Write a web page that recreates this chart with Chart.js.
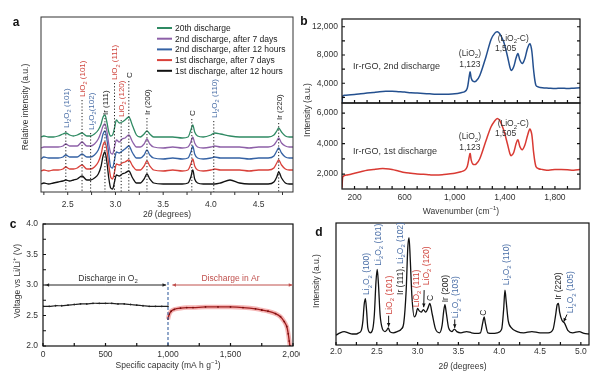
<!DOCTYPE html>
<html>
<head>
<meta charset="utf-8">
<script src="https://cdn.jsdelivr.net/npm/chart.js@4.4.0/dist/chart.umd.min.js"></script>
<style>
  body { margin: 0; background: #fff; width: 600px; height: 374px; overflow: hidden; position: relative; }
  canvas { position: absolute; }
</style>
</head>
<body>
<canvas id="chartA" width="300" height="222" style="left:0;top:0"></canvas>
<canvas id="chartB2" width="300" height="222" style="left:300px;top:0"></canvas>
<canvas id="chartB1" width="300" height="104" style="left:300px;top:0"></canvas>
<canvas id="chartC" width="300" height="159" style="left:0;top:215px"></canvas>
<canvas id="chartD" width="300" height="159" style="left:300px;top:215px"></canvas>
<script>
// ---- panel a: XRD patterns, 5 discharges ----
const A_TWO_THETA = [2.22, 2.25, 2.30, 2.35, 2.40, 2.45, 2.48, 2.52, 2.56, 2.60, 2.65, 2.70, 2.74, 2.78, 2.82,
  2.85, 2.87, 2.89, 2.91, 2.93, 2.95, 2.97, 2.99, 3.01, 3.04, 3.07, 3.10, 3.14, 3.18, 3.22,
  3.26, 3.30, 3.33, 3.36, 3.40, 3.50, 3.60, 3.70, 3.76, 3.79, 3.81, 3.83, 3.86, 3.92, 4.00,
  4.04, 4.10, 4.20, 4.30, 4.40, 4.50, 4.60, 4.66, 4.69, 4.71, 4.74, 4.78, 4.82, 4.86];
const A_20TH = [55, 56, 55, 55, 56, 58, 59, 57, 56, 57, 59, 56, 56, 58, 62,
  68, 75, 77, 70, 60, 56, 57, 64, 72, 69, 70, 72, 75, 66, 57,
  55, 58, 61, 58, 55, 55, 55, 54, 55, 62, 67, 60, 56, 55, 57,
  59, 58, 56, 55, 55, 55, 55, 57, 61, 64, 60, 56, 55, 55];
const A_2ND_7D = [44, 45, 45, 45, 45, 46, 48, 46, 46, 46, 50, 46, 46, 48, 53,
  60, 66, 68, 61, 48, 39, 38, 45, 52, 50, 53, 54, 57, 50, 45,
  45, 48, 53, 48, 45, 44, 45, 44, 45, 50, 55, 49, 45, 44, 45,
  46, 45, 45, 45, 44, 45, 45, 47, 51, 54, 49, 46, 45, 45];
const A_2ND_12H = [33, 35, 34, 34, 34, 35, 37, 35, 35, 35, 38, 35, 35, 37, 42,
  50, 58, 61, 53, 38, 25, 24, 32, 40, 39, 41, 43, 46, 39, 34,
  34, 37, 42, 37, 34, 33, 34, 33, 34, 40, 46, 38, 34, 33, 34,
  35, 34, 34, 34, 33, 34, 34, 36, 41, 44, 39, 35, 34, 34];
const A_1ST_7D = [21, 22, 21, 22, 22, 23, 25, 23, 23, 24, 27, 23, 23, 25, 30,
  38, 47, 50, 42, 27, 15, 13, 20, 28, 27, 29, 30, 32, 26, 22,
  22, 26, 31, 26, 22, 21, 22, 21, 22, 28, 33, 26, 22, 21, 22,
  23, 22, 22, 22, 21, 22, 22, 24, 29, 32, 27, 23, 22, 22];
const A_1ST_12H = [8, 9, 8, 9, 10, 11, 12, 11, 12, 13, 16, 12, 12, 14, 18,
  26, 36, 40, 30, 14, 4, 3, 10, 17, 16, 18, 19, 21, 14, 9,
  9, 13, 18, 13, 9, 8, 8, 8, 9, 15, 22, 13, 9, 8, 8,
  8, 9, 12, 9, 8, 8, 8, 10, 15, 20, 14, 9, 8, 8];
const A_LEGEND = ['20th discharge', '2nd discharge, after 7 days', '2nd discharge, after 12 hours',
  '1st discharge, after 7 days', '1st discharge, after 12 hours'];
const A_PEAK_NAMES = ['Li_2O_2 (101)', 'LiO_2 (101)', 'Li_2O_2(102)', 'Ir (111)', 'LiO_2 (111)', 'LiO_2 (120)',
  'C', 'Ir (200)', 'C', 'Li_2O_2 (110)', 'Ir (220)'];
const A_PEAK_PHASE = ['Li2O2', 'LiO2', 'Li2O2', 'Ir', 'LiO2', 'LiO2', 'C', 'Ir', 'C', 'Li2O2', 'Ir'];
const A_PEAK_POS = [2.48, 2.65, 2.74, 2.89, 2.99, 3.06, 3.14, 3.33, 3.80, 4.03, 4.71];
const A_LABEL_BASE = [64, 95, 62, 77, 112, 75, 114, 77, 76, 74, 72];
const A_X_TICKS = [2.5, 3.0, 3.5, 4.0, 4.5];
const A_X_MARKS = [2.25, 2.5, 2.75, 3.0, 3.25, 3.5, 3.75, 4.0, 4.25, 4.5, 4.75];

// ---- panel b: Raman spectra ----
const B_WAVENUMBER = [100, 105, 110, 120, 150, 200, 250, 300, 350, 400, 450, 500, 550, 600, 650,
  700, 750, 800, 850, 900, 950, 1000, 1050, 1080, 1100, 1115, 1123, 1132, 1145, 1170,
  1200, 1250, 1290, 1320, 1340, 1360, 1390, 1420, 1440, 1450, 1470, 1490, 1505, 1520, 1540,
  1560, 1580, 1600, 1615, 1630, 1648, 1670, 1700, 1750, 1800, 1850, 1900, 1950, 2000];
const B_SECOND = [1300, 2100, 2250, 2300, 2350, 2400, 2500, 2600, 2700, 2800, 2850, 2850, 2800, 2750, 2650,
  2600, 2550, 2500, 2450, 2450, 2450, 2500, 2650, 2800, 3300, 4900, 5600, 4700, 4300, 4300,
  5100, 7800, 10200, 11100, 11300, 11000, 9900, 7900, 6300, 5800, 6300, 7600, 8200, 7300, 6800,
  7500, 8900, 9600, 8600, 5800, 3700, 3450, 3350, 3300, 3250, 3300, 3250, 3300, 3350];
const B_FIRST = [1100, 1800, 1850, 1900, 1950, 2050, 2150, 2250, 2300, 2350, 2350, 2300, 2200, 2100, 2050,
  2000, 1980, 1950, 1930, 1950, 2000, 2050, 2150, 2250, 2500, 3100, 3350, 2900, 2650, 2650,
  3000, 4200, 5100, 5500, 5650, 5500, 4900, 4000, 3350, 3200, 3400, 4000, 4250, 3800, 3600,
  3900, 4500, 4950, 4600, 3400, 2500, 2350, 2300, 2250, 2300, 2300, 2280, 2250, 2300];
const B_NAMES = ['Ir-rGO, 2nd discharge', 'Ir-rGO, 1st discharge'];
const B_NAME_AT = [[188, 6440], [188, 3508]];
const B_NOTE_TEXT = ['(LiO_2)', '1,123', '(LiO_2-C)', '1,505'];
const B_NOTE_X = [1121, 1121, 1467, 1406];
const B_TOP_NOTE_Y = [8280, 6730, 10400, 8990];
const B_BOT_NOTE_Y = [4490, 3770, 5340, 4690];
const B_X_TICKS = [200, 600, 1000, 1400, 1800];
const B_X_MARKS = [200, 300, 400, 500, 600, 700, 800, 900, 1000, 1100, 1200, 1300, 1400, 1500, 1600, 1700, 1800, 1900];
const B_TOP_Y_TICKS = [4000, 8000, 12000];
const B_TOP_Y_MARKS = [2000, 4000, 6000, 8000, 10000, 12000];
const B_BOT_Y_TICKS = [2000, 4000, 6000];
const B_BOT_Y_MARKS = [2000, 3000, 4000, 5000, 6000];

// ---- panel c: discharge profile ----
const C_O2_CAP = [0, 50, 100, 150, 200, 250, 300, 350, 400, 450, 500, 550, 600, 650, 700, 750, 800, 850, 900, 950, 1000];
const C_O2_V = [2.65, 2.65, 2.66, 2.66, 2.67, 2.68, 2.69, 2.69, 2.70, 2.70, 2.70, 2.70, 2.69, 2.69, 2.68, 2.67, 2.66, 2.65, 2.65, 2.65, 2.65];
const C_AR_CAP = [1000, 1010, 1025, 1050, 1100, 1150, 1200, 1300, 1400, 1500, 1600, 1700, 1750, 1800, 1860, 1900, 1930, 1950, 1962, 1970, 1975];
const C_AR_V = [2.44, 2.52, 2.57, 2.60, 2.62, 2.63, 2.63, 2.64, 2.64, 2.64, 2.63, 2.61, 2.59, 2.57, 2.53, 2.48, 2.40, 2.32, 2.20, 2.08, 2.00];
const C_SWITCH = 1000;
const C_ARROW_V = 3.0;
const C_X_TICKS = [0, 500, 1000, 1500, 2000];
const C_X_MARKS = [0, 250, 500, 750, 1000, 1250, 1500, 1750, 2000];
const C_Y_TICKS = [2.0, 2.5, 3.0, 3.5, 4.0];
const C_Y_MARKS = [2.0, 2.25, 2.5, 2.75, 3.0, 3.25, 3.5, 3.75, 4.0];

// ---- panel d: XRD of Ir-rGO cathode ----
const D_TWO_THETA = [2.00, 2.05, 2.10, 2.15, 2.20, 2.25, 2.28, 2.31, 2.33, 2.345, 2.36, 2.375, 2.39, 2.42, 2.45,
  2.47, 2.49, 2.505, 2.52, 2.54, 2.57, 2.60, 2.62, 2.64, 2.66, 2.70, 2.75, 2.80, 2.83, 2.86,
  2.88, 2.895, 2.91, 2.93, 2.96, 2.98, 3.00, 3.02, 3.045, 3.07, 3.10, 3.125, 3.15, 3.18, 3.22,
  3.27, 3.30, 3.32, 3.335, 3.35, 3.38, 3.42, 3.45, 3.48, 3.53, 3.60, 3.66, 3.72, 3.77, 3.80,
  3.815, 3.83, 3.86, 3.92, 3.98, 4.03, 4.055, 4.07, 4.085, 4.11, 4.15, 4.22, 4.30, 4.40, 4.50,
  4.60, 4.66, 4.69, 4.71, 4.725, 4.74, 4.77, 4.80, 4.84, 4.90, 4.98, 5.04, 5.10];
const D_INTENSITY = [8, 10, 11, 10, 9, 9, 10, 12, 20, 33, 38, 28, 14, 10, 13,
  25, 52, 62, 50, 25, 13, 11, 12, 14, 11, 10, 11, 13, 18, 45,
  80, 88, 70, 40, 23, 25, 30, 28, 27, 29, 27, 30, 34, 25, 13,
  10, 16, 28, 33, 27, 14, 11, 13, 11, 10, 11, 10, 9.5, 10, 19,
  23, 18, 10, 9.5, 10, 13, 30, 45, 36, 20, 14, 11, 10, 11, 10,
  10, 13, 24, 33, 34, 27, 20, 18, 12, 10, 11, 9.5, 9];
const D_PEAK_NAMES = ['Li_2O_2 (100)', 'Li_2O_2 (101)', 'LiO_2 (101)', ['Ir (111), ', 'Li_2O_2 (102)'], 'LiO_2 (111)',
  'LiO_2 (120)', 'C', 'Ir (200)', 'Li_2O_2 (103)', 'C', 'Li_2O_2 (110)', 'Ir (220)', 'Li_2O_2 (105)'];
const D_PEAK_PHASE = ['Li2O2', 'Li2O2', 'LiO2', ['Ir', 'Li2O2'], 'LiO2', 'LiO2', 'C', 'Ir', 'Li2O2', 'C', 'Li2O2', 'Ir', 'Li2O2'];
const D_LABEL_X = [2.37, 2.51, 2.65, 2.78, 2.98, 3.10, 3.15, 3.34, 3.46, 3.80, 4.08, 4.72, 4.87];
const D_LABEL_BASE = [41, 65, 25, 41, 31, 49, 36, 35, 22, 24, 49, 37, 26];
const D_ARROWS = [[2.645, 24, 2.645, 15], [3.08, 45, 3.075, 31], [3.455, 21, 3.455, 14], [4.83, 25, 4.79, 19]];
const D_X_TICKS = [2.0, 2.5, 3.0, 3.5, 4.0, 4.5, 5.0];
const D_X_MARKS = [2.0, 2.25, 2.5, 2.75, 3.0, 3.25, 3.5, 3.75, 4.0, 4.25, 4.5, 4.75, 5.0];

// ---- styling ----
const FONT = "'Liberation Sans', Arial, Helvetica, sans-serif";
Chart.defaults.font.family = FONT;
Chart.defaults.font.size = 8.5;
Chart.defaults.color = '#333';
const PHASE_COLOR = { Li2O2: '#4c70a8', LiO2: '#d0463f', Ir: '#222', C: '#222' };
const A_COLORS = ['#2f8a63', '#8d60a8', '#3562a4', '#d9413a', '#111'];

function pts(xs, ys) { return xs.map((x, i) => ({ x: x, y: ys[i] })); }

// "_2" subscript, "^+" superscript, "~θ~" italic
function richParts(s) {
  const out = [];
  let buf = '', i = 0;
  const flush = () => { if (buf) out.push({ t: buf, m: 'n' }); buf = ''; };
  while (i < s.length) {
    const ch = s[i];
    if ((ch === '_' || ch === '^') && i + 1 < s.length) {
      flush();
      let t;
      if (s[i + 1] === '{') { const j = s.indexOf('}', i); t = s.slice(i + 2, j); i = j + 1; }
      else { t = s[i + 1]; i += 2; }
      out.push({ t: t, m: ch === '_' ? 'sub' : 'sup' });
    } else if (ch === '~') {
      flush();
      const j = s.indexOf('~', i + 1);
      out.push({ t: s.slice(i + 1, j), m: 'it' });
      i = j + 1;
    } else { buf += ch; i++; }
  }
  flush();
  return out;
}

function drawRich(ctx, pieces, x, y, o) {
  const size = o.size || 8.5;
  const weight = o.bold ? 'bold ' : '';
  const list = typeof pieces === 'string' ? [[pieces, o.color || '#333']] : pieces;
  const segs = [];
  list.forEach(([s, c]) => richParts(s).forEach(p => segs.push(Object.assign(p, { c: c }))));
  const fontFor = m => (m === 'it' ? 'italic ' : '') + weight + (m === 'sub' || m === 'sup' ? size * 0.7 : size) + 'px ' + FONT;
  ctx.save();
  ctx.translate(x, y);
  if (o.rotate) ctx.rotate(-Math.PI / 2);
  let w = 0;
  segs.forEach(p => { ctx.font = fontFor(p.m); p.w = ctx.measureText(p.t).width; w += p.w; });
  let cx = o.align === 'left' ? 0 : o.align === 'right' ? -w : -w / 2;
  ctx.textAlign = 'left';
  ctx.textBaseline = 'alphabetic';
  const base = size * 0.36;
  segs.forEach(p => {
    ctx.font = fontFor(p.m);
    ctx.fillStyle = p.c;
    const dy = p.m === 'sub' ? size * 0.28 : p.m === 'sup' ? -size * 0.42 : 0;
    ctx.fillText(p.t, cx, base + dy);
    cx += p.w;
  });
  ctx.restore();
}

function arrow(ctx, x1, y1, x2, y2, head, color) {
  const ang = Math.atan2(y2 - y1, x2 - x1);
  ctx.save();
  ctx.strokeStyle = color; ctx.fillStyle = color; ctx.lineWidth = 1;
  ctx.beginPath(); ctx.moveTo(x1, y1); ctx.lineTo(x2, y2); ctx.stroke();
  ctx.beginPath();
  ctx.moveTo(x2, y2);
  ctx.lineTo(x2 - head * Math.cos(ang - 0.45), y2 - head * Math.sin(ang - 0.45));
  ctx.lineTo(x2 - head * Math.cos(ang + 0.45), y2 - head * Math.sin(ang + 0.45));
  ctx.closePath(); ctx.fill();
  ctx.restore();
}

function fixAxis(size) {
  return scale => {
    if (scale.isHorizontal()) scale.height = size; else scale.width = size;
    scale.paddingLeft = scale.paddingRight = scale.paddingTop = scale.paddingBottom = 0;
  };
}

function axis(min, max, labels, fmt, pad, size) {
  return {
    type: 'linear', min: min, max: max,
    grid: { display: false, drawTicks: false }, border: { display: false },
    afterBuildTicks: s => { s.ticks = labels.map(v => ({ value: v })); },
    afterFit: fixAxis(size),
    ticks: { autoSkip: false, maxRotation: 0, padding: pad, color: '#333', callback: fmt }
  };
}

function hiddenAxis(min, max, size) {
  return {
    type: 'linear', min: min, max: max, ticks: { display: false },
    grid: { display: false, drawTicks: false }, border: { display: false }, afterFit: fixAxis(size)
  };
}

// frame box + tick marks
const framePlugin = {
  id: 'frame',
  afterDatasetsDraw(chart, args, o) {
    const { ctx, chartArea: a, scales } = chart;
    ctx.save();
    ctx.strokeStyle = o.color || '#111';
    ctx.lineWidth = o.lineWidth || 1;
    ctx.strokeRect(a.left, a.top, a.right - a.left, a.bottom - a.top);
    (o.marks || []).forEach(m => {
      const s = scales[m.axis];
      const d = m.out ? -m.len : m.len;
      ctx.beginPath();
      m.values.forEach(v => {
        const p = s.getPixelForValue(v);
        m.sides.forEach(side => {
          if (side === 'bottom') { ctx.moveTo(p, a.bottom); ctx.lineTo(p, a.bottom - d); }
          if (side === 'top') { ctx.moveTo(p, a.top); ctx.lineTo(p, a.top + d); }
          if (side === 'left') { ctx.moveTo(a.left, p); ctx.lineTo(a.left + d, p); }
          if (side === 'right') { ctx.moveTo(a.right, p); ctx.lineTo(a.right - d, p); }
        });
      });
      ctx.stroke();
    });
    ctx.restore();
  }
};

function baseOptions(padding, scales, frame) {
  return {
    responsive: false, animation: false, events: [],
    layout: { padding: padding },
    plugins: { legend: { display: false }, tooltip: { enabled: false }, frame: frame },
    scales: scales
  };
}

const fmt1 = v => v.toFixed(1);
const fmtK = v => v.toLocaleString('en-US');

// ---------- panel a ----------
const A_SERIES = [A_20TH, A_2ND_7D, A_2ND_12H, A_1ST_7D, A_1ST_12H];
new Chart(document.getElementById('chartA'), {
  type: 'line',
  data: {
    datasets: A_SERIES.map((ys, i) => ({
      label: A_LEGEND[i], data: pts(A_TWO_THETA, ys), borderColor: A_COLORS[i],
      borderWidth: 1.3, pointRadius: 0, cubicInterpolationMode: 'monotone'
    }))
  },
  options: baseOptions({ top: 17, right: 7, left: 0, bottom: 0 }, {
    x: axis(2.22, 4.86, A_X_TICKS, fmt1, 8, 30),
    y: hiddenAxis(0, 175, 41)
  }, { color: '#333', lineWidth: 1, marks: [{ axis: 'x', values: A_X_MARKS, len: 3, out: true, sides: ['bottom'] }] }),
  plugins: [framePlugin, {
    id: 'notesA',
    afterDatasetsDraw(chart) {
      const { ctx, chartArea: a, scales: { x, y } } = chart;
      A_PEAK_NAMES.forEach((name, i) => {
        const px = x.getPixelForValue(A_PEAK_POS[i]);
        const py = y.getPixelForValue(A_LABEL_BASE[i]);
        ctx.save();
        ctx.setLineDash([1.2, 2]); ctx.strokeStyle = '#222'; ctx.lineWidth = 1;
        ctx.beginPath(); ctx.moveTo(px, py + 3); ctx.lineTo(px, a.bottom); ctx.stroke();
        ctx.restore();
        drawRich(ctx, name, px, py, { size: 8, color: PHASE_COLOR[A_PEAK_PHASE[i]], rotate: true, align: 'left' });
      });
      chart.data.datasets.forEach((ds, i) => {
        const ly = a.top + 11 + i * 10.7;
        ctx.save();
        ctx.strokeStyle = ds.borderColor; ctx.lineWidth = 2;
        ctx.beginPath(); ctx.moveTo(a.left + 116, ly); ctx.lineTo(a.left + 131, ly); ctx.stroke();
        ctx.restore();
        drawRich(ctx, ds.label, a.left + 134, ly, { size: 8.5, color: '#222', align: 'left' });
      });
      drawRich(ctx, '2~θ~ (degrees)', (a.left + a.right) / 2, 214, { size: 8.5 });
      drawRich(ctx, 'Relative intensity (a.u.)', 25, 107, { size: 8.5, rotate: true });
      drawRich(ctx, 'a', 16, 22, { size: 12, bold: true, color: '#111' });
    }
  }]
});

// ---------- panel b ----------
function ramanNotes(nameIdx, noteY) {
  return function (chart) {
    const { ctx, scales: { x, y } } = chart;
    drawRich(ctx, B_NAMES[nameIdx], x.getPixelForValue(B_NAME_AT[nameIdx][0]), y.getPixelForValue(B_NAME_AT[nameIdx][1]), { size: 9, align: 'left' });
    B_NOTE_TEXT.forEach((t, i) => {
      drawRich(ctx, t, x.getPixelForValue(B_NOTE_X[i]), y.getPixelForValue(noteY[i]), { size: 8.5 });
    });
  };
}

new Chart(document.getElementById('chartB1'), {
  type: 'line',
  data: { datasets: [{ data: pts(B_WAVENUMBER, B_SECOND), borderColor: '#24508f', borderWidth: 1.5, pointRadius: 0, tension: 0.3 }] },
  options: baseOptions({ top: 19, right: 20, left: 0, bottom: 1 }, {
    x: Object.assign(hiddenAxis(100, 2000, 0), { display: false }),
    y: axis(1200, 13100, B_TOP_Y_TICKS, fmtK, 4, 42)
  }, { color: '#111', lineWidth: 1.2, marks: [
    { axis: 'x', values: B_X_MARKS, len: 3, sides: ['bottom'] },
    { axis: 'y', values: B_TOP_Y_MARKS, len: 3, sides: ['left', 'right'] }
  ] }),
  plugins: [framePlugin, { id: 'notesB1', afterDatasetsDraw: ramanNotes(0, B_TOP_NOTE_Y) }]
});

const notesB2 = ramanNotes(1, B_BOT_NOTE_Y);
new Chart(document.getElementById('chartB2'), {
  type: 'line',
  data: { datasets: [{ data: pts(B_WAVENUMBER, B_FIRST), borderColor: '#d93a33', borderWidth: 1.5, pointRadius: 0, tension: 0.3 }] },
  options: baseOptions({ top: 103, right: 20, left: 0, bottom: 0 }, {
    x: axis(100, 2000, B_X_TICKS, fmtK, 4, 33),
    y: axis(1020, 6660, B_BOT_Y_TICKS, fmtK, 4, 42)
  }, { color: '#111', lineWidth: 1.2, marks: [
    { axis: 'x', values: B_X_MARKS, len: 3, sides: ['bottom'] },
    { axis: 'y', values: B_BOT_Y_MARKS, len: 3, sides: ['left', 'right'] }
  ] }),
  plugins: [framePlugin, {
    id: 'notesB2',
    afterDatasetsDraw(chart) {
      const { ctx, chartArea: a } = chart;
      notesB2(chart);
      drawRich(ctx, 'Wavenumber (cm^{−1})', (a.left + a.right) / 2, 211, { size: 8.5 });
      drawRich(ctx, 'Intensity (a.u.)', 7, 110, { size: 8.5, rotate: true });
      drawRich(ctx, 'b', 4, 21, { size: 12, bold: true, color: '#111' });
    }
  }]
});

// ---------- panel c ----------
new Chart(document.getElementById('chartC'), {
  type: 'line',
  data: {
    datasets: [
      { data: pts(C_O2_CAP, C_O2_V), borderColor: '#222', borderWidth: 1.2, pointRadius: 0.9, pointBackgroundColor: '#222', pointBorderWidth: 0, tension: 0.3, order: 0 },
      { data: pts(C_AR_CAP, C_AR_V), borderColor: '#9e1c1c', borderWidth: 1.3, pointRadius: 0.9, pointBackgroundColor: '#7a1010', pointBorderWidth: 0, tension: 0.3, order: 0 },
      { data: pts(C_AR_CAP, C_AR_V), borderColor: 'rgba(236,120,120,0.55)', borderWidth: 4.5, pointRadius: 0, tension: 0.3, order: 1 }
    ]
  },
  options: baseOptions({ top: 9, right: 7, left: 0, bottom: 0 }, {
    x: axis(0, 2000, C_X_TICKS, fmtK, 4, 28),
    y: axis(2, 4, C_Y_TICKS, fmt1, 5, 43)
  }, { color: '#111', lineWidth: 1.2, marks: [
    { axis: 'x', values: C_X_MARKS, len: 3, sides: ['bottom'] },
    { axis: 'y', values: C_Y_MARKS, len: 3, sides: ['left'] }
  ] }),
  plugins: [framePlugin, {
    id: 'notesC',
    afterDatasetsDraw(chart) {
      const { ctx, chartArea: a, scales: { x, y } } = chart;
      const sx = x.getPixelForValue(C_SWITCH);
      ctx.save();
      ctx.setLineDash([3, 2]); ctx.strokeStyle = '#4a6fa8'; ctx.lineWidth = 1.2;
      ctx.beginPath(); ctx.moveTo(sx, y.getPixelForValue(3.05)); ctx.lineTo(sx, a.bottom); ctx.stroke();
      ctx.restore();
      const ay = y.getPixelForValue(C_ARROW_V);
      const l1 = x.getPixelForValue(20), r1 = x.getPixelForValue(985);
      arrow(ctx, (l1 + r1) / 2, ay, l1, ay, 4, '#222'); arrow(ctx, (l1 + r1) / 2, ay, r1, ay, 4, '#222');
      const l2 = x.getPixelForValue(1035), r2 = x.getPixelForValue(1995);
      arrow(ctx, (l2 + r2) / 2, ay, l2, ay, 4, '#c0504d'); arrow(ctx, (l2 + r2) / 2, ay, r2, ay, 4, '#c0504d');
      drawRich(ctx, 'Discharge in O_2', x.getPixelForValue(520), y.getPixelForValue(3.115), { size: 8.5, color: '#333' });
      drawRich(ctx, 'Discharge in Ar', x.getPixelForValue(1500), y.getPixelForValue(3.115), { size: 8.5, color: '#c0504d' });
      drawRich(ctx, 'Specific capacity (mA h g^{−1})', (a.left + a.right) / 2, 150, { size: 8.5 });
      drawRich(ctx, 'Voltage vs Li/Li^+ (V)', 17, 66, { size: 8.5, rotate: true });
      drawRich(ctx, 'c', 13, 9, { size: 12, bold: true, color: '#111' });
    }
  }]
});

// ---------- panel d ----------
new Chart(document.getElementById('chartD'), {
  type: 'line',
  data: { datasets: [{ data: pts(D_TWO_THETA, D_INTENSITY), borderColor: '#111', borderWidth: 1.3, pointRadius: 0, cubicInterpolationMode: 'monotone' }] },
  options: baseOptions({ top: 8, right: 11, left: 0, bottom: 0 }, {
    x: axis(2.0, 5.1, D_X_TICKS, fmt1, 2, 29),
    y: hiddenAxis(0, 100, 36)
  }, { color: '#111', lineWidth: 1.2, marks: [{ axis: 'x', values: D_X_MARKS, len: 3, sides: ['bottom'] }] }),
  plugins: [framePlugin, {
    id: 'notesD',
    afterDatasetsDraw(chart) {
      const { ctx, chartArea: a, scales: { x, y } } = chart;
      D_PEAK_NAMES.forEach((name, i) => {
        const ph = D_PEAK_PHASE[i];
        const pieces = Array.isArray(name) ? name.map((s, k) => [s, PHASE_COLOR[ph[k]]]) : [[name, PHASE_COLOR[ph]]];
        drawRich(ctx, pieces, x.getPixelForValue(D_LABEL_X[i]), y.getPixelForValue(D_LABEL_BASE[i]), { size: 8.5, rotate: true, align: 'left' });
      });
      D_ARROWS.forEach(([x1, y1, x2, y2]) => {
        arrow(ctx, x.getPixelForValue(x1), y.getPixelForValue(y1), x.getPixelForValue(x2), y.getPixelForValue(y2), 4, '#111');
      });
      drawRich(ctx, '2~θ~ (degrees)', (a.left + a.right) / 2, 151, { size: 8.5 });
      drawRich(ctx, 'Intensity (a.u.)', 16, 66, { size: 8.5, rotate: true });
      drawRich(ctx, 'd', 19, 17, { size: 12, bold: true, color: '#111' });
    }
  }]
});
</script>
</body>
</html>
